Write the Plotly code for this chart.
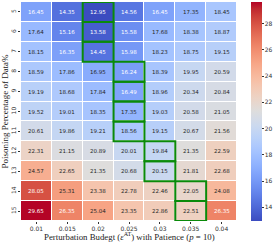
import plotly.graph_objects as go
import numpy as np

budgets = ["0.01", "0.015", "0.02", "0.025", "0.03", "0.035", "0.04"]
poison = ["5", "6", "7", "8", "9", "10", "11", "12", "13", "14", "15"]

row5 = [16.45, 14.35, 12.95, 14.56, 16.45, 17.35, 18.45]
row6 = [17.64, 15.16, 13.58, 15.58, 17.68, 18.38, 18.87]
row7 = [18.15, 16.35, 14.45, 15.98, 18.23, 18.75, 19.15]
row8 = [18.59, 17.86, 16.95, 16.24, 18.39, 19.95, 20.59]
row9 = [19.19, 18.68, 17.84, 16.49, 18.96, 20.34, 20.84]
row10 = [19.52, 19.01, 18.35, 17.35, 19.03, 20.58, 21.05]
row11 = [20.61, 19.86, 19.21, 18.56, 19.15, 20.67, 21.56]
row12 = [22.31, 21.15, 20.89, 20.01, 19.84, 21.35, 22.59]
row13 = [24.57, 22.65, 21.35, 20.68, 20.15, 21.81, 22.68]
row14 = [28.05, 25.31, 23.38, 22.78, 22.46, 22.05, 24.08]
row15 = [29.65, 26.35, 25.04, 23.35, 22.86, 22.51, 26.35]

Z = np.array([row5, row6, row7, row8, row9, row10, row11, row12, row13, row14, row15])

cw = [
    (59, 76, 192), (68, 90, 204), (77, 104, 215), (87, 117, 225), (98, 130, 234),
    (108, 142, 241), (119, 154, 247), (130, 165, 251), (141, 176, 254), (152, 185, 255),
    (163, 194, 255), (174, 201, 253), (184, 208, 249), (194, 213, 244), (204, 217, 238),
    (213, 219, 230), (221, 221, 221), (229, 216, 209), (236, 211, 197), (241, 204, 185),
    (245, 196, 173), (247, 187, 160), (247, 177, 148), (247, 166, 135), (244, 154, 123),
    (241, 141, 111), (236, 127, 99), (229, 112, 88), (222, 96, 77), (213, 80, 66),
    (203, 62, 56), (192, 40, 47), (180, 4, 38)]
n = len(cw)
colorscale = [[i / (n - 1), "rgb(%d,%d,%d)" % c] for i, c in enumerate(cw)]

vmin, vmax = Z.min(), Z.max()


def cmap(v):
    t = (v - vmin) / (vmax - vmin) * (n - 1)
    i = int(min(max(np.floor(t), 0), n - 2))
    f = t - i
    a, b = np.array(cw[i]), np.array(cw[i + 1])
    return (a + (b - a) * f) / 255.0


def lum(rgb):
    c = np.where(rgb <= 0.03928, rgb / 12.92, ((rgb + 0.055) / 1.055) ** 2.4)
    return 0.2126 * c[0] + 0.7152 * c[1] + 0.0722 * c[2]


xs = list(range(len(budgets)))
ys = list(range(len(poison)))

fig = go.Figure()
fig.add_trace(go.Heatmap(
    z=Z, x=xs, y=ys, colorscale=colorscale, zmin=vmin, zmax=vmax,
    xgap=1, ygap=1, showscale=True, hoverinfo="skip",
    colorbar=dict(thickness=11, len=1.0, lenmode="fraction", x=1.063, xanchor="left",
                  xpad=0, ypad=0,
                  y=0.5, yanchor="middle", outlinewidth=0,
                  tickvals=[14, 16, 18, 20, 22, 24, 26, 28], ticks="outside", ticklen=2,
                  tickwidth=0.6, tickcolor="#333",
                  tickfont=dict(family="DejaVu Sans", size=6, color="#333"))))

annotations = []
for r in ys:
    for c in xs:
        v = Z[r, c]
        col = "white" if lum(cmap(v)) <= 0.408 else "#262626"
        annotations.append(dict(x=c, y=r, text="%.2f" % v, showarrow=False,
                                font=dict(family="DejaVu Sans", size=5.5, color=col)))

annotations.append(dict(
    xref="paper", yref="paper", x=0.5, y=0, xanchor="center", yanchor="top", yshift=-7.5,
    showarrow=False,
    text="Perturbation Budegt (<i>ε</i><sup>AT</sup>) with Patience (<i>p</i> = 10)",
    font=dict(family="Liberation Serif", size=8.8, color="#222")))

shapes = []
for r in ys:
    c = int(np.argmin(Z[r]))
    shapes.append(dict(type="rect", x0=c - 0.5, x1=c + 0.5, y0=r - 0.5, y1=r + 0.5,
                       xref="x", yref="y", line=dict(color="#0a8a0a", width=2)))

fig.update_layout(
    width=275, height=242, margin=dict(l=19, r=35, t=2, b=21),
    paper_bgcolor="white", plot_bgcolor="white",
    annotations=annotations, shapes=shapes, showlegend=False,
    xaxis=dict(tickvals=xs, ticktext=budgets, ticks="outside", ticklen=2, tickwidth=0.6,
               tickcolor="#333", showgrid=False, zeroline=False, range=[-0.5, 6.5],
               tickfont=dict(family="DejaVu Sans", size=6, color="#333")),
    yaxis=dict(tickvals=ys, ticktext=poison, ticks="outside", ticklen=2, tickwidth=0.6,
               tickcolor="#333", showgrid=False, zeroline=False, range=[10.5, -0.5],
               tickangle=-90,
               tickfont=dict(family="DejaVu Sans", size=6, color="#333"),
               title=dict(text="Poisoning Percentage of Data%",
                          font=dict(family="Liberation Serif", size=9, color="#222"), standoff=1)),
)

fig.write_html("out.html", config={"displayModeBar": False},
               post_script="document.body.style.margin='0';document.body.style.overflow='hidden';")
